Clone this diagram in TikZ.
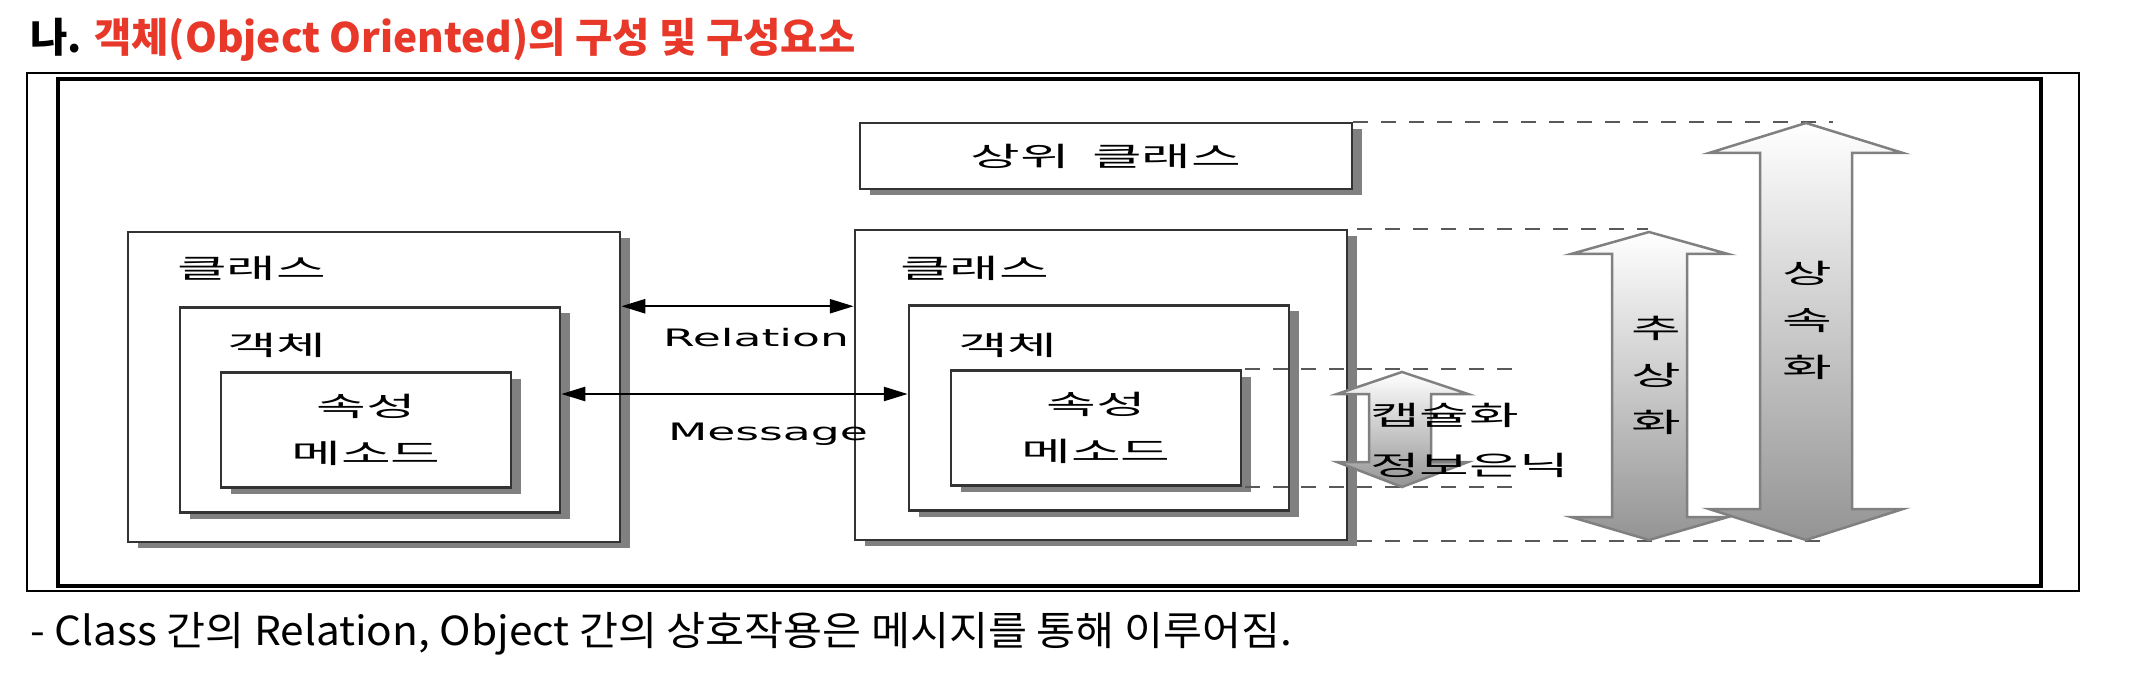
\documentclass[tikz,border=0pt]{standalone}
\usepackage{fontspec}
\setmainfont{Noto Sans CJK KR}
\newfontfamily\dgfont[FakeStretch=2]{Noto Sans CJK KR}
\newfontfamily\capfont[FakeStretch=1.06]{Noto Sans CJK KR}
\newfontfamily\latfont[FakeStretch=1.9]{DejaVu Sans}
\usetikzlibrary{arrows.meta,shadows}
\definecolor{titlered}{RGB}{232,56,42}

\tikzset{
  box/.style={draw=black!80, line width=2.5pt, fill=white, inner sep=0pt,
    drop shadow={shadow xshift=10pt, shadow yshift=-6pt, fill=black!50, opacity=1}},
  lbl/.style={inner sep=0pt, font=\dgfont\fontsize{27}{47}\selectfont, align=center},
  rel/.style={line width=2.5pt, {Triangle[length=24pt,width=14pt]}-{Triangle[length=24pt,width=14pt]}},
  guide/.style={black!65, line width=2pt, dash pattern=on 15pt off 13pt},
  fatarrow/.style={draw=black!50, line width=2.5pt, top color=white, bottom color=black!42}
}

\begin{document}
\begin{tikzpicture}[x=1pt, y=-1pt]
        \useasboundingbox (0,0) rectangle (2146,684);

        % Frames
        \draw[line width=2.5pt] (27,73) rectangle (2079,591);
        \draw[line width=3.5pt] (58,79) rectangle (2041,586);

        % Title and caption
        \node[anchor=base west, inner sep=0pt, font=\bfseries\fontsize{40.6}{44}\selectfont] (title) at (30,53)
          {나. \textcolor{titlered}{객체(Object Oriented)의 구성 및 구성요소}};
        \node[anchor=base west, inner sep=0pt, font=\capfont\fontsize{40}{44}\selectfont] (caption) at (30,645)
          {- Class 간의 Relation, Object 간의 상호작용은 메시지를 통해 이루어짐.};

        % Boxes
        \node[box, minimum width=492pt, minimum height=66pt, lbl] (super) at (1106,156) {상위\hspace*{22pt}클래스};
        \node[box, minimum width=492pt, minimum height=310pt] (lclass) at (374,387) {};
        \node[box, minimum width=380pt, minimum height=205pt] (lobj) at (370,410) {};
        \node[box, minimum width=290pt, minimum height=115pt, lbl] (lattr) at (366,430) {속성\\메소드};
        \node[box, minimum width=492pt, minimum height=310pt] (rclass) at (1101,385) {};
        \node[box, minimum width=380pt, minimum height=205pt] (robj) at (1099,408) {};
        \node[box, minimum width=290pt, minimum height=115pt, lbl] (rattr) at (1096,428) {속성\\메소드};

        % Box labels
        \node[lbl, anchor=west] (lclasstxt) at (177,268) {클래스};
        \node[lbl, anchor=west] (lobjtxt) at (227,345) {객체};
        \node[lbl, anchor=west] (rclasstxt) at (900,268) {클래스};
        \node[lbl, anchor=west] (robjtxt) at (958,345) {객체};

        % Relation and message
        \coordinate (msg) at (0,394);
        \draw[rel] (lclass.east |- lobj.north) -- (rclass.west |- lobj.north);
        \draw[rel] (lobj.east |- msg) -- (robj.west |- msg);
        \node[anchor=base, inner sep=0pt, font=\latfont\fontsize{24}{28}\selectfont] (reltxt) at (756,346) {Relation};
        \node[anchor=base, inner sep=0pt, font=\latfont\fontsize{24}{28}\selectfont] (msgtxt) at (768,440) {Message};

        % Guide lines
        \coordinate (farend) at (1833,0);
        \coordinate (absend) at (1648,0);
        \coordinate (capend) at (1525,0);
        \draw[guide] (super.north east) -- (super.north east -| farend);
        \draw[guide] ([xshift=9pt]rclass.north east) -- (rclass.north east -| absend);
        \draw[guide] ([xshift=3pt]rattr.north east) -- (rattr.north east -| capend);
        \draw[guide] ([xshift=3pt]rattr.south east) -- (rattr.south east -| capend);
        \draw[guide] ([xshift=9pt]rclass.south east) -- (rclass.south east -| farend);

        % Double arrows
        \draw[fatarrow] (1402,372) -- (1468,394) -- (1431,394) -- (1431,462) -- (1468,462) -- (1402,487)
          -- (1337,462) -- (1369,462) -- (1369,394) -- (1337,394) -- cycle;
        \draw[fatarrow] (1649,232) -- (1728,254) -- (1687,254) -- (1687,517) -- (1728,517) -- (1649,540)
          -- (1571,517) -- (1612,517) -- (1612,254) -- (1571,254) -- cycle;
        \draw[fatarrow] (1806,123) -- (1903,153) -- (1852,153) -- (1852,509) -- (1903,509) -- (1806,540)
          -- (1709,509) -- (1760,509) -- (1760,153) -- (1709,153) -- cycle;

        % Arrow labels
        \node[lbl, anchor=west] (captxt) at (1370,415) {캡슐화};
        \node[lbl, anchor=west] (hidetxt) at (1370,465) {정보은닉};
        \node[lbl] (abstxt) at (1656,375) {추\\상\\화};
        \node[lbl] (inhtxt) at (1807,320) {상\\속\\화};
    \end{tikzpicture}
\end{document}
